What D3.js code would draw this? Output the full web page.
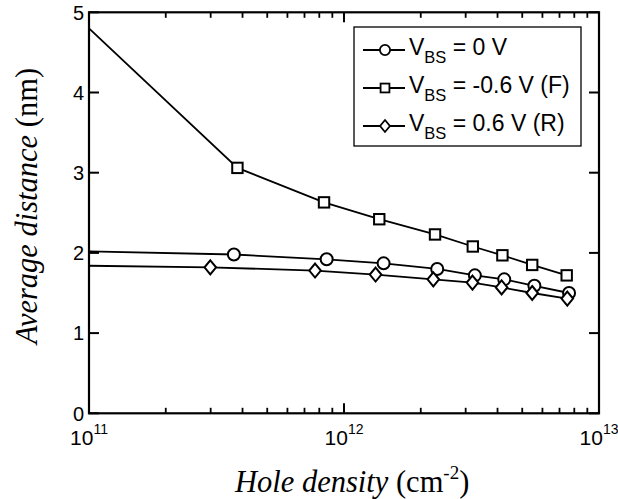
<!DOCTYPE html>
<html><head><meta charset="utf-8">
<script src="https://cdn.jsdelivr.net/npm/d3@7"></script>
<style>body{margin:0;background:#fff}svg{display:block}</style>
</head><body>
<svg id="c" width="618" height="499"></svg>
<script>
// ---- data (first point of each series = where the curve enters the frame, no marker) ----
const xTickValues = [1e11, 1e12, 1e13];
const xTickExponents = ["11", "12", "13"];
const yTickValues = [0, 1, 2, 3, 4, 5];

const densityZero = [1e11, 3.70e11, 8.55e11, 1.43e12, 2.32e12, 3.26e12, 4.25e12, 5.58e12, 7.63e12];
const distanceZero = [2.02, 1.98, 1.92, 1.87, 1.80, 1.72, 1.67, 1.59, 1.50];

const densityF = [1e11, 3.82e11, 8.35e11, 1.375e12, 2.275e12, 3.20e12, 4.18e12, 5.47e12, 7.47e12];
const distanceF = [4.80, 3.06, 2.63, 2.42, 2.23, 2.08, 1.97, 1.85, 1.72];

const densityR = [1e11, 2.99e11, 7.70e11, 1.33e12, 2.24e12, 3.19e12, 4.15e12, 5.47e12, 7.51e12];
const distanceR = [1.84, 1.82, 1.78, 1.73, 1.67, 1.63, 1.57, 1.50, 1.43];

const seriesNames = ["= 0 V", "= -0.6 V (F)", "= 0.6 V (R)"];
const seriesMarkers = ["circle", "square", "diamond"];

// ---- layout ----
const svg = d3.select("#c");
const L = 89, R = 599, T = 12.3, B = 413.3;
const x = d3.scaleLog().domain([1e11, 1e13]).range([L, R]);
const y = d3.scaleLinear().domain([0, 5]).range([B, T]);
const sans = "'Liberation Sans', Arial, sans-serif";
const serif = "'Liberation Serif', 'Times New Roman', serif";

const series = [
  {xs: densityZero, ys: distanceZero, name: seriesNames[0], marker: seriesMarkers[0]},
  {xs: densityF, ys: distanceF, name: seriesNames[1], marker: seriesMarkers[1]},
  {xs: densityR, ys: distanceR, name: seriesNames[2], marker: seriesMarkers[2]}
];

function drawMarker(g, type, cx, cy, s) {
  if (type === "circle") {
    g.append("circle").attr("cx", cx).attr("cy", cy).attr("r", 6 * s);
  } else if (type === "square") {
    const h = 5.2 * s;
    g.append("rect").attr("x", cx - h).attr("y", cy - h).attr("width", 2 * h).attr("height", 2 * h);
  } else {
    const w = 5.8 * s, hh = 7 * s;
    g.append("path").attr("d", `M${cx},${cy - hh}L${cx + w},${cy}L${cx},${cy + hh}L${cx - w},${cy}Z`);
  }
}

// ---- lines ----
const line = d3.line().x(d => x(d[0])).y(d => y(d[1]));
series.forEach(s => {
  svg.append("path").datum(s.xs.map((v, i) => [v, s.ys[i]]))
    .attr("d", line).attr("fill", "none").attr("stroke", "#000").attr("stroke-width", 1.8);
});
series.forEach(s => {
  const g = svg.append("g").attr("fill", "#fff").attr("stroke", "#000").attr("stroke-width", 2);
  s.xs.forEach((v, i) => { if (i > 0) drawMarker(g, s.marker, x(v), y(s.ys[i]), 1); });
});

// ---- axes (ticks inward on all four sides) ----
const minorTicks = x.ticks().filter(t => !xTickValues.includes(t));
const axG = svg.append("g").attr("stroke", "#000");
function xTicksAt(yPos, dir) {
  xTickValues.forEach(t => axG.append("line").attr("x1", x(t)).attr("x2", x(t)).attr("y1", yPos).attr("y2", yPos + dir * 10).attr("stroke-width", 2));
  minorTicks.forEach(t => axG.append("line").attr("x1", x(t)).attr("x2", x(t)).attr("y1", yPos).attr("y2", yPos + dir * 5.5).attr("stroke-width", 1.8));
}
xTicksAt(B, -1); xTicksAt(T, 1);
yTickValues.forEach(t => {
  axG.append("line").attr("x1", L).attr("x2", L + 10).attr("y1", y(t)).attr("y2", y(t)).attr("stroke-width", 2);
  axG.append("line").attr("x1", R).attr("x2", R - 10).attr("y1", y(t)).attr("y2", y(t)).attr("stroke-width", 2);
});
svg.append("rect").attr("x", L).attr("y", T).attr("width", R - L).attr("height", B - T)
  .attr("fill", "none").attr("stroke", "#000").attr("stroke-width", 2.2);

// y tick labels
svg.append("g").selectAll("text").data(yTickValues).join("text")
  .attr("x", L - 5).attr("y", d => y(d)).attr("dy", "0.36em").attr("text-anchor", "end")
  .attr("font-family", sans).attr("font-size", 20).text(d => d);

// x tick labels 10^n
xTickValues.forEach((t, i) => {
  const tx = svg.append("text").attr("x", x(t)).attr("y", 445).attr("text-anchor", "middle")
    .attr("font-family", sans).attr("font-size", 21);
  tx.append("tspan").text("10");
  tx.append("tspan").attr("font-size", 14).attr("dy", -11).text(xTickExponents[i]);
});

// axis titles
const xt = svg.append("text").attr("x", 235).attr("y", 492).attr("font-family", serif).attr("font-size", 30.5);
xt.append("tspan").attr("font-style", "italic").text("Hole density");
xt.append("tspan").text(" (cm");
xt.append("tspan").attr("font-size", 19).attr("dy", -13).text("-2");
xt.append("tspan").attr("dy", 13).text(")");

const yt = svg.append("text").attr("transform", "translate(37,206) rotate(-90)").attr("text-anchor", "middle")
  .attr("font-family", serif).attr("font-size", 30.5);
yt.append("tspan").attr("font-style", "italic").text("Average distance");
yt.append("tspan").text(" (nm)");

// ---- legend ----
const lg = svg.append("g");
lg.append("rect").attr("x", 354).attr("y", 27).attr("width", 227).attr("height", 119)
  .attr("fill", "#fff").attr("stroke", "#000").attr("stroke-width", 1.3);
series.forEach((s, i) => {
  const cy = 50 + i * 38;
  lg.append("line").attr("x1", 363).attr("x2", 405).attr("y1", cy).attr("y2", cy).attr("stroke", "#000").attr("stroke-width", 1.8);
  const mg = lg.append("g").attr("fill", "#fff").attr("stroke", "#000").attr("stroke-width", 1.8);
  drawMarker(mg, s.marker, 385, cy, 0.85);
  const t = lg.append("text").attr("x", 409).attr("y", cy + 5).attr("font-family", sans).attr("font-size", 23);
  t.append("tspan").text("V");
  t.append("tspan").attr("font-size", 16.5).attr("dy", 8).text("BS");
  t.append("tspan").attr("dy", -8).text(" " + s.name);
});
</script>
</body></html>
